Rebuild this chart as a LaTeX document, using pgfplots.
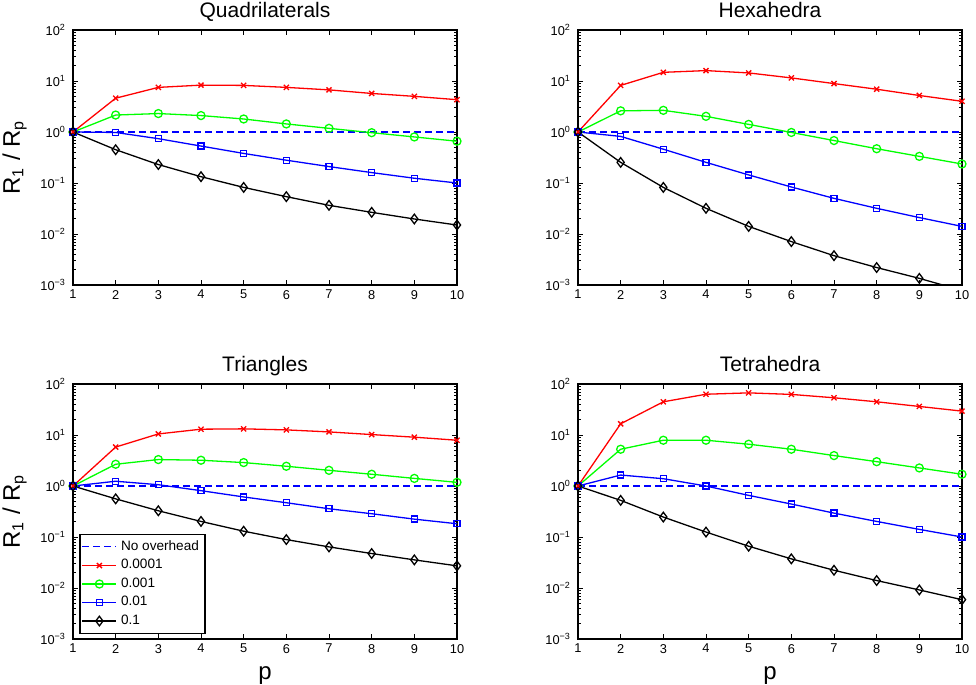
\documentclass[border=0pt]{standalone}
\usepackage{fontspec}
\setmainfont{Liberation Sans}
\usepackage{pgfplots}
\usepackage{pgfplotstable}
\pgfplotsset{compat=1.18}
\definecolor{mred}{RGB}{255,0,0}
\definecolor{mgreen}{RGB}{0,255,0}
\definecolor{mblue}{RGB}{0,0,255}

% columns: p, tol 0.0001, 0.001, 0.01, 0.1
\pgfplotstableread{
p  a     b     c     d
1  1     1     1     1
2  4.6   2.15  0.98  0.45
3  7.5   2.3   0.74  0.23
4  8.3   2.1   0.53  0.133
5  8.2   1.8   0.38  0.082
6  7.5   1.44  0.28  0.054
7  6.7   1.18  0.21  0.0365
8  5.7   0.97  0.16  0.0266
9  5.0   0.80  0.124 0.0197
10 4.3   0.66  0.10  0.015
}\quaddata
\pgfplotstableread{
p  a     b     c      d
1  1     1     1      1
2  8.2   2.6   0.82   0.254
3  14.8  2.66  0.46   0.082
4  16.0  2.03  0.254  0.0319
5  14.4  1.41  0.144  0.0141
6  11.5  0.98  0.0835 0.0071
7  8.9   0.68  0.050  0.00376
8  6.9   0.47  0.0319 0.0022
9  5.2   0.333 0.021  0.00135
10 4.0   0.236 0.0141 0.00078
}\hexdata
\pgfplotstableread{
p  a     b     c     d
1  1     1     1     1
2  5.8   2.67  1.24  0.56
3  10.5  3.3   1.06  0.327
4  13.0  3.2   0.81  0.202
5  13.2  2.88  0.61  0.13
6  12.6  2.44  0.47  0.089
7  11.5  2.03  0.358 0.064
8  10.2  1.70  0.286 0.0474
9  9.06  1.41  0.224 0.0356
10 7.9   1.18  0.182 0.0272
}\tridata
\pgfplotstableread{
p  a     b     c     d
1  1     1     1     1
2  16.6  5.26  1.64  0.523
3  44.8  7.9   1.39  0.246
4  63.0  7.9   1.00  0.125
5  67.0  6.6   0.655 0.066
6  62.5  5.26  0.443 0.0373
7  53.7  3.95  0.294 0.0223
8  44.8  3.0   0.202 0.014
9  36.3  2.26  0.141 0.00916
10 29.4  1.70  0.100 0.0059
}\tetdata

\pgfplotsset{
  meshax/.style={
    scale only axis, width=192pt, height=127.5pt, anchor=north west,
    xmin=1, xmax=10, ymin=1e-3, ymax=1e2,
    xtick={1,...,10},
    ytick={1e-3,1e-2,1e-1,1,1e1,1e2},
    yticklabels={10\textsuperscript{−3},10\textsuperscript{−2},10\textsuperscript{−1},10\textsuperscript{0},10\textsuperscript{1},10\textsuperscript{2}},
    /pgf/number format/assume math mode=true,
    tick label style={font=\fontsize{6.4}{7}\selectfont},
    xticklabel style={yshift=1pt},
    major tick length=2.5pt, minor tick length=1.5pt,
    tick style={line width=0.4pt, black},
    axis line style={line width=0.75pt},
    title style={font=\fontsize{10.5}{12}\selectfont, at={(0.5,1)}, anchor=base, yshift=0.5pt},
    label style={font=\fontsize{12}{14}\selectfont},
  },
  s0/.style={mblue, line width=0.7pt, dash pattern=on 3.5pt off 2pt, no marks},
  s1/.style={mred, line width=0.65pt, mark=x, mark size=1.8pt, mark options={solid}},
  s2/.style={mgreen, line width=0.65pt, mark=o, mark size=2pt, mark options={solid}},
  s3/.style={mblue, line width=0.65pt, mark=square, mark size=1.5pt, mark options={solid}},
  s4/.style={black, line width=0.65pt, mark=diamond, mark size=2.4pt, mark options={solid}},
}

\begin{document}
\begin{tikzpicture}
\path[use as bounding box] (0pt,0pt) rectangle (488pt,-342.5pt);

\begin{semilogyaxis}[meshax, at={(36.5pt,-15pt)}, title={Quadrilaterals},
  ylabel={R\textsubscript{1} / R\textsubscript{p}}, clip=false]
  \addplot[s0] coordinates {(1,1) (10,1)};
  \addplot[s1] table[x=p,y=a] {\quaddata};
  \addplot[s2] table[x=p,y=b] {\quaddata};
  \addplot[s3] table[x=p,y=c] {\quaddata};
  \addplot[s4] table[x=p,y=d] {\quaddata};
\end{semilogyaxis}

\begin{semilogyaxis}[meshax, at={(289pt,-15pt)}, title={Hexahedra}]
  \addplot[s0] coordinates {(1,1) (10,1)};
  \addplot[s1] table[x=p,y=a] {\hexdata};
  \addplot[s2] table[x=p,y=b] {\hexdata};
  \addplot[s3] table[x=p,y=c] {\hexdata};
  \addplot[s4] table[x=p,y=d] {\hexdata};
\end{semilogyaxis}

\begin{semilogyaxis}[meshax, at={(36.5pt,-192pt)}, title={Triangles},
  ylabel={R\textsubscript{1} / R\textsubscript{p}}, xlabel={p}, clip=false,
  legend style={at={(0,0)}, anchor=south west, xshift=3pt, yshift=2.5pt,
    font=\fontsize{6.8}{7.5}\selectfont, draw=black, line width=0.75pt,
    inner sep=1pt, row sep=-1pt, fill=white},
  legend cell align=left,
  legend image post style={line width=0.65pt},
  legend image code/.code={\draw[mark repeat=2,mark phase=2] plot coordinates {(0pt,0pt) (8.5pt,0pt) (17pt,0pt)};}]
  \addplot[s0] coordinates {(1,1) (10,1)};
  \addplot[s1] table[x=p,y=a] {\tridata};
  \addplot[s2] table[x=p,y=b] {\tridata};
  \addplot[s3] table[x=p,y=c] {\tridata};
  \addplot[s4] table[x=p,y=d] {\tridata};
  \legend{No overhead,0.0001,0.001,0.01,0.1}
\end{semilogyaxis}

\begin{semilogyaxis}[meshax, at={(289pt,-192pt)}, title={Tetrahedra}, xlabel={p}, clip=false]
  \addplot[s0] coordinates {(1,1) (10,1)};
  \addplot[s1] table[x=p,y=a] {\tetdata};
  \addplot[s2] table[x=p,y=b] {\tetdata};
  \addplot[s3] table[x=p,y=c] {\tetdata};
  \addplot[s4] table[x=p,y=d] {\tetdata};
\end{semilogyaxis}
\end{tikzpicture}
\end{document}
